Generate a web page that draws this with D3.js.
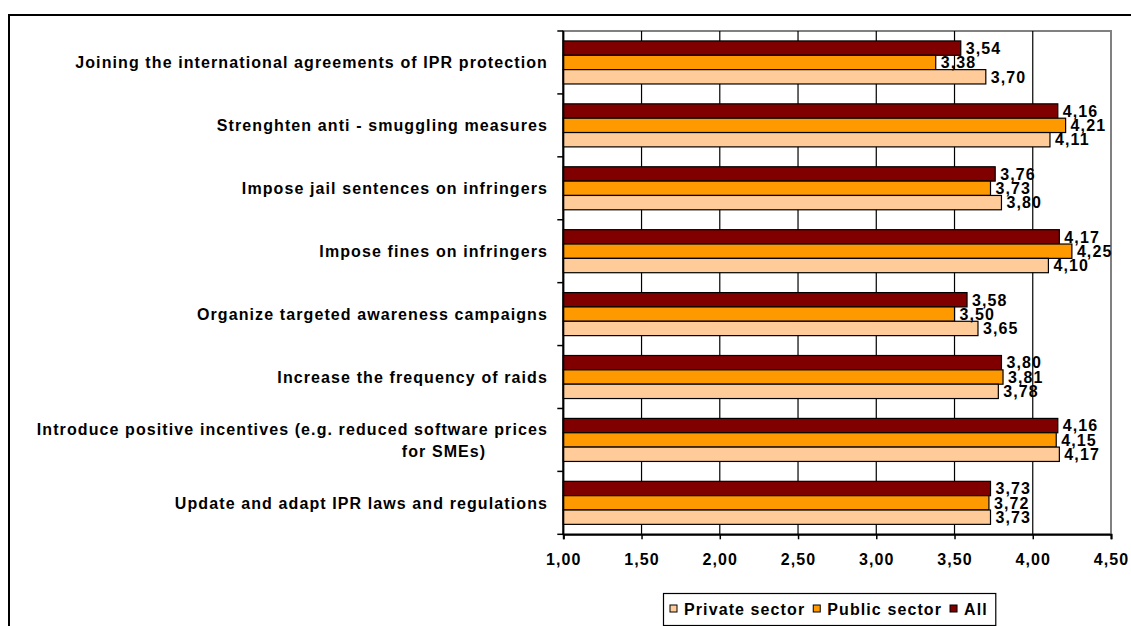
<!DOCTYPE html>
<html>
<head>
<meta charset="utf-8">
<script src="https://cdn.jsdelivr.net/npm/d3@7"></script>
<style>
  html, body { margin: 0; padding: 0; background: #fff; }
  svg { display: block; }
  text { font-family: "Liberation Sans", Arial, sans-serif; font-weight: bold; font-size: 16px; letter-spacing: 1.1px; fill: #000; }
</style>
</head>
<body>
<svg id="chart" width="1131" height="626"></svg>
<script>
// Survey items (top to bottom); a "\n" marks a wrapped label line
const categories = [
  "Joining the international agreements of IPR protection",
  "Strenghten anti - smuggling measures",
  "Impose jail sentences on infringers",
  "Impose fines on infringers",
  "Organize targeted awareness campaigns",
  "Increase the frequency of raids",
  "Introduce positive incentives (e.g. reduced software prices\nfor SMEs)",
  "Update and adapt IPR laws and regulations"
];

// Mean scores per respondent group
const allValues     = [3.54, 4.16, 3.76, 4.17, 3.58, 3.80, 4.16, 3.73];
const publicValues  = [3.38, 4.21, 3.73, 4.25, 3.50, 3.81, 4.15, 3.72];
const privateValues = [3.70, 4.11, 3.80, 4.10, 3.65, 3.78, 4.17, 3.73];

const seriesNames = ["All", "Public sector", "Private sector"];
const legendOrder = ["Private sector", "Public sector", "All"];
const tickValues  = [1.0, 1.5, 2.0, 2.5, 3.0, 3.5, 4.0, 4.5];

const colors = { "All": "#800000", "Public sector": "#FF9900", "Private sector": "#FFCC99" };
const seriesValues = { "All": allValues, "Public sector": publicValues, "Private sector": privateValues };

const svg = d3.select("#chart");
const plot = { left: 563.3, right: 1111, top: 31, bottom: 534.3 };
const comma = v => d3.format(".2f")(v).replace(".", ",");

// Outer chart frame (runs past the right and bottom edges)
svg.append("rect")
  .attr("x", 9).attr("y", 15).attr("width", 1140).attr("height", 640)
  .attr("fill", "#fff").attr("stroke", "#000").attr("stroke-width", 2);

const x = d3.scaleLinear().domain([1, 4.5]).range([plot.left, plot.right]);
const y = d3.scaleBand().domain(categories).range([plot.top, plot.bottom])
  .paddingInner(0.316).paddingOuter(0.158);
const ySeries = d3.scaleBand().domain(seriesNames).range([0, y.bandwidth()]);

// Plot area with grey border
svg.append("rect")
  .attr("x", plot.left).attr("y", plot.top)
  .attr("width", plot.right - plot.left).attr("height", plot.bottom - plot.top)
  .attr("fill", "#fff").attr("stroke", "#808080").attr("stroke-width", 2);

// Vertical gridlines
svg.append("g")
  .selectAll("line")
  .data(tickValues.filter(t => t > 1 && t < 4.5))
  .join("line")
  .attr("x1", d => x(d)).attr("x2", d => x(d))
  .attr("y1", plot.top).attr("y2", plot.bottom)
  .attr("stroke", "#000").attr("stroke-width", 1.2);

// Bars
const groups = svg.append("g")
  .selectAll("g")
  .data(categories)
  .join("g")
  .attr("transform", d => `translate(0,${y(d)})`);

groups.selectAll("rect")
  .data((d, i) => seriesNames.map(s => ({ s, v: seriesValues[s][i] })))
  .join("rect")
  .attr("x", x(1))
  .attr("y", d => ySeries(d.s))
  .attr("width", d => x(d.v) - x(1))
  .attr("height", ySeries.bandwidth())
  .attr("fill", d => colors[d.s])
  .attr("stroke", "#000").attr("stroke-width", 1.2);

// Value labels
groups.selectAll("text.val")
  .data((d, i) => seriesNames.map(s => ({ s, v: seriesValues[s][i] })))
  .join("text")
  .attr("class", "val")
  .attr("x", d => x(d.v) + 5)
  .attr("y", d => ySeries(d.s) + ySeries.bandwidth() / 2)
  .attr("dy", "0.36em")
  .text(d => comma(d.v));

// X axis
const xAxis = svg.append("g")
  .attr("transform", `translate(0,${plot.bottom})`)
  .call(d3.axisBottom(x).tickValues(tickValues).tickSize(5).tickPadding(14).tickFormat(comma));
xAxis.select(".domain").attr("stroke", "#000").attr("stroke-width", 2);
xAxis.selectAll(".tick line").attr("stroke", "#000").attr("stroke-width", 1.5);
xAxis.selectAll("text").attr("font-size", null).attr("font-family", null).attr("fill", "#000");

// Y axis: line with outward ticks at the category boundaries
const yAxis = svg.append("g");
yAxis.append("line")
  .attr("x1", plot.left).attr("x2", plot.left)
  .attr("y1", plot.top).attr("y2", plot.bottom)
  .attr("stroke", "#000").attr("stroke-width", 2);
yAxis.selectAll("line.tk")
  .data(d3.range(categories.length + 1))
  .join("line")
  .attr("class", "tk")
  .attr("x1", plot.left - 6).attr("x2", plot.left)
  .attr("y1", i => plot.top + i * y.step())
  .attr("y2", i => plot.top + i * y.step())
  .attr("stroke", "#000").attr("stroke-width", 1.5);

// Category labels
const labelX = 548;
categories.forEach(c => {
  const lines = c.split("\n");
  const cy = y(c) + y.bandwidth() / 2;
  const lh = 22;
  lines.forEach((ln, k) => {
    const t = svg.append("text")
      .attr("y", cy + (k - (lines.length - 1) / 2) * lh)
      .attr("dy", "0.36em")
      .text(ln);
    if (k === 0) t.attr("x", labelX).attr("text-anchor", "end");
    else t.attr("x", labelX - 104).attr("text-anchor", "middle");
  });
});

// Legend
const legend = svg.append("g");
const legendBox = legend.append("rect")
  .attr("x", 663.5).attr("y", 593.5).attr("height", 32)
  .attr("fill", "#fff").attr("stroke", "#000").attr("stroke-width", 1.2);
let lx = 670;
legendOrder.forEach(s => {
  legend.append("rect")
    .attr("x", lx).attr("y", 605).attr("width", 7).attr("height", 7)
    .attr("fill", colors[s]).attr("stroke", "#000").attr("stroke-width", 1);
  const t = legend.append("text")
    .attr("x", lx + 14).attr("y", 614.5)
    .text(s);
  lx += 14 + t.node().getComputedTextLength() + 8;
});
legendBox.attr("width", lx - 663.5);
</script>
</body>
</html>
